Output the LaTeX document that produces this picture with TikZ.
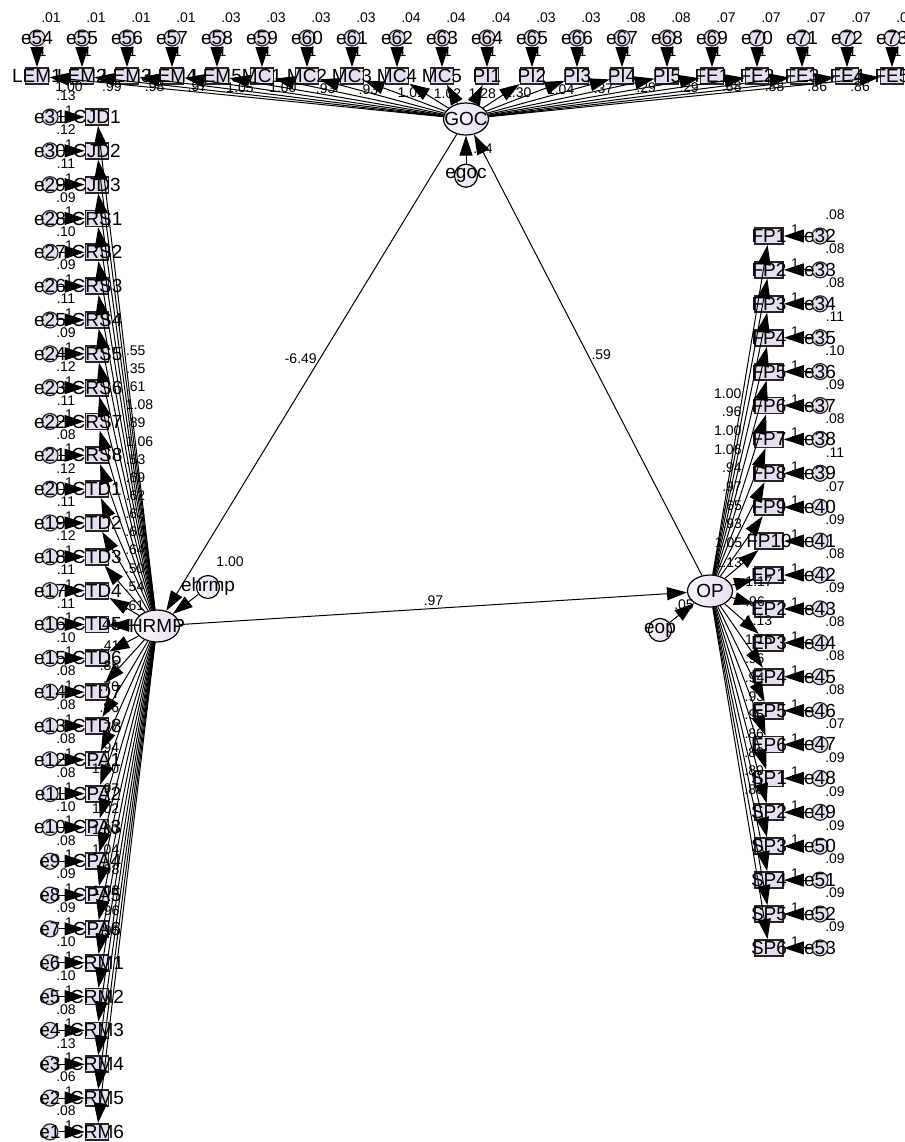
\documentclass[tikz,border=0pt]{standalone}
\usepackage{fontspec}
\setmainfont{Liberation Sans}
\usetikzlibrary{arrows.meta, positioning, shapes.geometric, calc}

\definecolor{lav}{RGB}{232,222,242}
\newcommand{\namefont}{\fontsize{19}{19}\selectfont}
\newcommand{\numfont}{\fontsize{14}{14}\selectfont}

\tikzset{
  obs/.style={draw=black!85, line width=1.8pt, fill=lav,
              minimum width=23pt, minimum height=16pt, inner sep=0pt},
  errc/.style={circle, draw=black!85, line width=1.2pt, fill=lav,
               minimum size=16pt, inner sep=0pt},
  resc/.style={circle, draw, line width=1.2pt, left color=lav!30!white,
               right color=lav, minimum size=23pt, inner sep=0pt},
  latent/.style={ellipse, draw, line width=1.2pt, left color=lav!30!white,
                 right color=lav, minimum width=45pt, minimum height=32pt,
                 inner sep=0pt},
  nm/.style={font=\namefont, inner sep=0pt},
  num/.style={font=\numfont, inner sep=1pt},
  reg/.style={->, line width=1pt},
}

% indicator / error / variance / loading
\def\toplist{LEM1/e54/.01/1.00, LEM2/e55/.01/.99, LEM3/e56/.01/.98,
  LEM4/e57/.01/.97, LEM5/e58/.03/1.05, MC1/e59/.03/1.00, MC2/e60/.03/.93,
  MC3/e61/.03/.93, MC4/e62/.04/1.01, MC5/e63/.04/1.02, PI1/e64/.04/1.28,
  PI2/e65/.03/1.30, PI3/e66/.03/1.04, PI4/e67/.08/.37, PI5/e68/.08/.29,
  FE1/e69/.07/.29, FE2/e70/.07/.88, FE3/e71/.07/.88, FE4/e72/.07/.86,
  FE5/e73/.07/.86}
\def\leftlist{CJD1/e31/.13/.55, CJD2/e30/.12/.35, CJD3/e29/.11/.61,
  CRS1/e28/.09/1.08, CRS2/e27/.10/.89, CRS3/e26/.09/1.06, CRS4/e25/.11/.53,
  CRS5/e24/.09/.69, CRS6/e23/.12/.62, CRS7/e22/.11/.63, CRS8/e21/.08/.60,
  CTD1/e20/.12/.64, CTD2/e19/.11/.50, CTD3/e18/.12/.54, CTD4/e17/.11/.61,
  CTD5/e16/.11/.44, CTD6/e15/.10/.41, CTD7/e14/.08/.85, CTD8/e13/.08/.70,
  CPA1/e12/.08/.86, CPA2/e11/.08/.77, CPA3/e10/.10/.94, CPA4/e9/.08/1.00,
  CPA5/e8/.09/.97, CPA6/e7/.09/1.02, CRM1/e6/.10/1.00, CRM2/e5/.10/1.04,
  CRM3/e4/.08/.98, CRM4/e3/.13/1.03, CRM5/e2/.06/.96, CRM6/e1/.08/.95}
\def\rightlist{FP1/e32/.08/1.00, FP2/e33/.08/.96, FP3/e34/.08/1.00,
  FP4/e35/.11/1.06, FP5/e36/.10/.94, FP6/e37/.09/.97, FP7/e38/.08/.65,
  FP8/e39/.11/.93, FP9/e40/.07/1.05, FP10/e41/.09/1.13, EP1/e42/.08/1.17,
  EP2/e43/.09/.96, EP3/e44/.08/1.13, EP4/e45/.08/1.16, EP5/e46/.08/.96,
  EP6/e47/.07/.94, SP1/e48/.09/.93, SP2/e49/.09/.95, SP3/e50/.09/.86,
  SP4/e51/.09/.88, SP5/e52/.09/.89, SP6/e53/.09/.86}

\begin{document}
\begin{tikzpicture}[x=1pt, y=-1pt, >={Triangle[length=20pt, width=13pt]}]
  \useasboundingbox[fill=white] (0,0) rectangle (904,1142);

  % Latent variables
  \node[latent, label={[nm]center:GOC}] (goc) at (466,119) {};
  \node[latent, label={[nm]center:HRMP}] (hrmp) at (157,626) {};
  \node[latent, label={[nm]center:OP}] (op) at (710,591) {};

  % Residuals
  \node[resc, below=28pt of goc, label={[nm]center:egoc}] (egoc) {};
  \node[resc, label={[nm]center:ehrmp}] (ehrmp) at (208,587) {};
  \node[resc, label={[nm]center:eop}] (eop) at (660,630) {};
  \node[num] at ([shift={(17pt,27pt)}]egoc) {.04};
  \node[num] at ([shift={(22pt,25pt)}]ehrmp) {1.00};
  \node[num] at ([shift={(24pt,25pt)}]eop) {.05};

  % Top row: GOC indicators
  \foreach \nm/\er/\va/\ld [count=\k from 0] in \toplist {
    \pgfmathsetmacro\xx{37+45*\k}
    \node[obs, label={[nm]center:\nm}] (\nm) at (\xx,76) {};
    \node[errc, label={[nm]center:\er}] (\er) at (\xx,38) {};
    \node[num] at ([shift={(14pt,20pt)}]\er) {\va};
  }

  % Left column: HRMP indicators
  \foreach \nm/\er/\va/\ld [count=\k from 0] in \leftlist {
    \pgfmathsetmacro\yy{117+33.83*\k}
    \node[obs, label={[nm]center:\nm}] (\nm) at (97,\yy) {};
    \node[errc, label={[nm]center:\er}] (\er) at (50,\yy) {};
    \node[num] at ([shift={(16pt,21pt)}]\er) {\va};
  }

  % Right column: OP indicators
  \foreach \nm/\er/\va/\ld [count=\k from 0] in \rightlist {
    \pgfmathsetmacro\yy{236+33.9*\k}
    \node[obs, minimum width=28pt, label={[nm]center:\nm}] (\nm) at (769,\yy) {};
    \node[errc, label={[nm]center:\er}] (\er) at (820,\yy) {};
    \node[num] at ([shift={(15pt,21pt)}]\er) {\va};
  }

  % Paths
  \foreach \nm/\er/\va/\ld in \toplist {
    \draw[reg] (\er) -- (\nm) node[num, pos=0.25, right=0pt] {1};
    \draw[reg] (goc) -- (\nm) node[num, pos=0.95, below=1pt] {\ld};
  }
  \foreach \nm/\er/\va/\ld [count=\k from 0] in \leftlist {
    \draw[reg] (\er) -- (\nm) node[num, pos=0.4, above=0pt] {1};
    \ifnum\k<15
      \draw[reg] (hrmp) -- (\nm) node[num, pos=0.535, anchor=west] {\ld};
    \else
      \draw[reg] (hrmp) -- (\nm) node[num, pos=0.6, anchor=east] {\ld};
    \fi
  }
  \foreach \nm/\er/\va/\ld [count=\k from 0] in \rightlist {
    \draw[reg] (\er) -- (\nm) node[num, pos=0.6, above=0pt] {1};
    \ifnum\k<10
      \draw[reg] (op) -- (\nm) node[num, pos=0.55, anchor=east] {\ld};
    \else
      \draw[reg] (op) -- (\nm) node[num, pos=0.55, anchor=west] {\ld};
    \fi
  }

  % Structural model
  \draw[reg] (egoc) -- (goc);
  \draw[reg] (ehrmp) -- (hrmp);
  \draw[reg] (eop) -- (op);
  \draw[reg] (goc) -- (hrmp) node[num, pos=0.47, left=2pt] {-6.49};
  \draw[reg] (op) -- (goc) node[num, pos=0.5, right=2pt] {.59};
  \draw[reg] (hrmp) -- (op) node[num, midway, above=1pt] {.97};
\end{tikzpicture}
\end{document}
